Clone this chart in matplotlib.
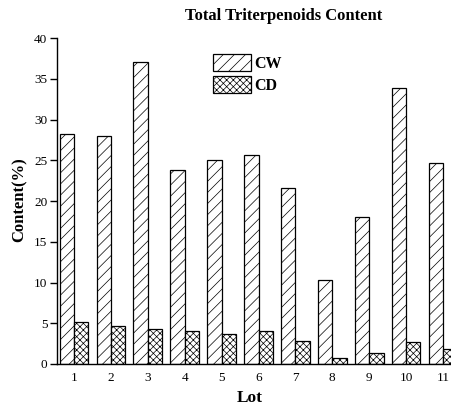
import matplotlib
matplotlib.use("Agg")
import matplotlib.pyplot as plt
import numpy as np

lots = ["1", "2", "3", "4", "5", "6", "7", "8", "9", "10", "11"]
cw = [28.2, 28.0, 37.0, 23.8, 25.0, 25.6, 21.6, 10.3, 18.0, 33.9, 24.7]
cd = [5.1, 4.7, 4.25, 4.1, 3.7, 4.05, 2.8, 0.7, 1.3, 2.7, 1.9]
yticks = [0, 5, 10, 15, 20, 25, 30, 35, 40]

plt.rcParams["font.family"] = ["Liberation Serif", "DejaVu Serif"]
plt.rcParams["hatch.linewidth"] = 0.5

fig = plt.figure(figsize=(4.51, 4.12), dpi=100)
ax = fig.add_axes([57 / 451, 1 - 364 / 412, 1 - 57 / 451, (364 - 38) / 412])

x = np.arange(1, len(lots) + 1)
w = 0.39
ax.bar(x - w / 2, cw, width=w, facecolor="white", edgecolor="black",
       linewidth=0.9, hatch="///", label="CW")
ax.bar(x + w / 2, cd, width=w, facecolor="white", edgecolor="black",
       linewidth=0.9, hatch="xxxxx", label="CD")

ax.set_xlim(0.539, 11.217)
ax.set_ylim(0, 40)
ax.set_yticks(yticks)
ax.set_xticks(x)
ax.set_xticklabels(lots)
ax.tick_params(axis="x", length=0, labelsize=9.5, pad=6)
ax.tick_params(axis="y", length=5, width=1, labelsize=9.5, pad=2)
for s in ["top", "right"]:
    ax.spines[s].set_visible(False)
for s in ["left", "bottom"]:
    ax.spines[s].set_linewidth(1.0)

fig.text(284 / 451, 1 - 16 / 412, "Total Triterpenoids Content",
         ha="center", va="center", fontsize=12, fontweight="bold")
fig.text(20 / 451, 1 - 200 / 412, "Content(%)", rotation=90,
         ha="center", va="center", fontsize=12, fontweight="bold")
fig.text(250 / 451, 1 - 398 / 412, "Lot",
         ha="center", va="center", fontsize=12.5, fontweight="bold")

fig.legend(loc="upper left", bbox_to_anchor=(205 / 451, 1 - 46 / 412),
           frameon=False, borderpad=0, handlelength=2.35, handleheight=1.3,
           handletextpad=0.25, labelspacing=0.25,
           prop={"size": 11.5, "weight": "bold"})

fig.savefig("out.png", dpi=100)
